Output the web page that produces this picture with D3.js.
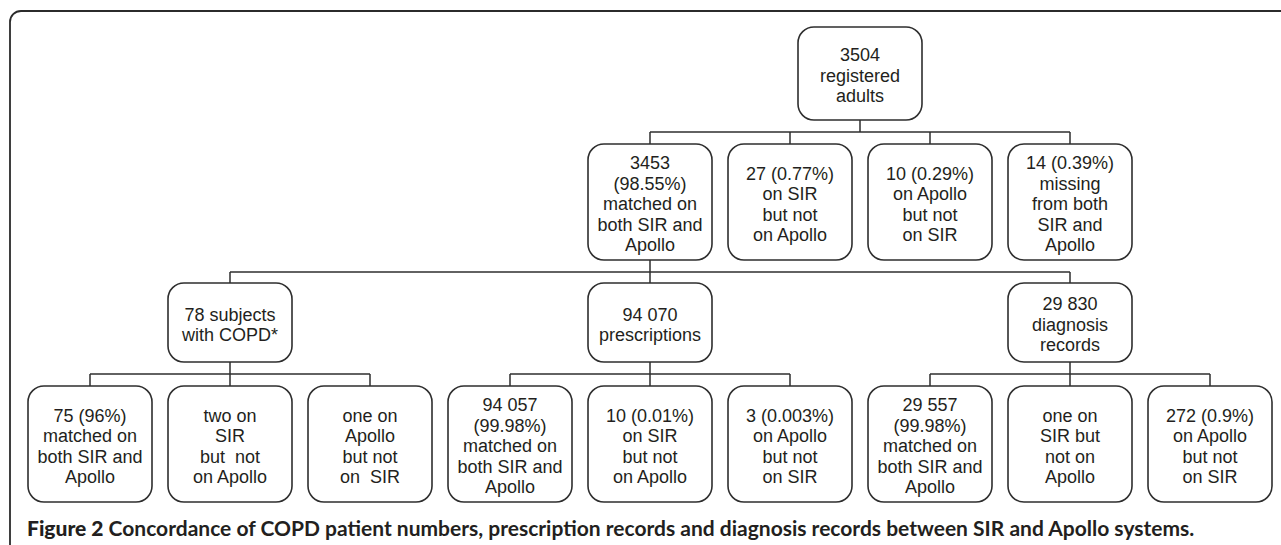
<!DOCTYPE html>
<html>
<head>
<meta charset="utf-8">
<script src="https://cdnjs.cloudflare.com/ajax/libs/d3/7.8.5/d3.min.js"></script>
<style>
  html, body { margin: 0; padding: 0; background: #fff; }
  svg { display: block; }
  text { white-space: pre; }
</style>
</head>
<body>
<svg id="chart" width="1281" height="545"></svg>
<script>
// ---- data ----
const rootLabel = ["3504", "registered", "adults"];
const level1Labels = [
  ["3453", "(98.55%)", "matched on", "both SIR and", "Apollo"],
  ["27 (0.77%)", "on SIR", "but not", "on Apollo"],
  ["10 (0.29%)", "on Apollo", "but not", "on SIR"],
  ["14 (0.39%)", "missing", "from both", "SIR and", "Apollo"]
];
const level2Labels = [
  ["78 subjects", "with COPD*"],
  ["94 070", "prescriptions"],
  ["29 830", "diagnosis", "records"]
];
const level3Labels = [
  ["75 (96%)", "matched on", "both SIR and", "Apollo"],
  ["two on", "SIR", "but  not", "on Apollo"],
  ["one on", "Apollo", "but not", "on  SIR"],
  ["94 057", "(99.98%)", "matched on", "both SIR and", "Apollo"],
  ["10 (0.01%)", "on SIR", "but not", "on Apollo"],
  ["3 (0.003%)", "on Apollo", "but not", "on SIR"],
  ["29 557", "(99.98%)", "matched on", "both SIR and", "Apollo"],
  ["one on", "SIR but", "not on", "Apollo"],
  ["272 (0.9%)", "on Apollo", "but not", "on SIR"]
];
// grid columns of each level (column index on a 9-column grid)
const rootCol = 5.5;
const level1Cols = [4, 5, 6, 7];
const level2Cols = [1, 4, 7];
const level3Cols = [0, 1, 2, 3, 4, 5, 6, 7, 8];
// parent of the level-2 group (index in level 1) and of each level-3 node (index in level 2)
const level2Parent = 0;
const level3Parents = [0, 0, 0, 1, 1, 1, 2, 2, 2];
const captionBold = "Figure 2";
const captionText = " Concordance of COPD patient numbers, prescription records and diagnosis records between SIR and Apollo systems.";

// ---- layout ----
const svg = d3.select("#chart");
const ink = "#231f20";
const x = d3.scaleLinear().domain([0, 8]).range([90, 1210]);
const boxW = 124;
const rows = {
  root: [27, 120],
  l1: [144, 260],
  l2: [283, 362],
  l3: [386, 502]
};
const busY = { l1: 132, l2: 272, l3: 374 };
const lineH = 20.5;

// frame
svg.append("rect")
  .attr("x", 10).attr("y", 11)
  .attr("width", 1400).attr("height", 700)
  .attr("rx", 11).attr("ry", 11)
  .attr("fill", "none").attr("stroke", "#2b2b2b").attr("stroke-width", 1.8);

const g = svg.append("g");

function drawBox(col, row, lines) {
  const cx = x(col);
  const [t, b] = rows[row];
  g.append("rect")
    .attr("x", cx - boxW / 2).attr("y", t)
    .attr("width", boxW).attr("height", b - t)
    .attr("rx", 16).attr("ry", 16)
    .attr("fill", "#fff").attr("stroke", "#2e2e2e").attr("stroke-width", 1.6);
  const cy = (t + b) / 2 + 2;
  const n = lines.length;
  const tx = g.append("text")
    .attr("x", cx).attr("text-anchor", "middle")
    .attr("font-family", "'Liberation Sans', Arial, sans-serif")
    .attr("font-size", 18).attr("fill", ink);
  lines.forEach((s, i) => {
    tx.append("tspan").attr("x", cx)
      .attr("y", cy + (i - (n - 1) / 2) * lineH)
      .attr("dy", "0.35em").text(s);
  });
}

function line(x1, y1, x2, y2) {
  g.append("line").attr("x1", x1).attr("y1", y1).attr("x2", x2).attr("y2", y2)
    .attr("stroke", "#2e2e2e").attr("stroke-width", 1.5);
}

// connectors root -> level1
line(x(rootCol), rows.root[1], x(rootCol), busY.l1);
line(x(d3.min(level1Cols)), busY.l1, x(d3.max(level1Cols)), busY.l1);
level1Cols.forEach(c => line(x(c), busY.l1, x(c), rows.l1[0]));

// level1 -> level2
const p2 = x(level1Cols[level2Parent]);
line(p2, rows.l1[1], p2, busY.l2);
line(x(d3.min(level2Cols)), busY.l2, x(d3.max(level2Cols)), busY.l2);
level2Cols.forEach(c => line(x(c), busY.l2, x(c), rows.l2[0]));

// level2 -> level3
level2Cols.forEach((pc, pi) => {
  const kids = level3Cols.filter((c, i) => level3Parents[i] === pi);
  line(x(pc), rows.l2[1], x(pc), busY.l3);
  line(x(d3.min(kids)), busY.l3, x(d3.max(kids)), busY.l3);
  kids.forEach(c => line(x(c), busY.l3, x(c), rows.l3[0]));
});

// boxes
drawBox(rootCol, "root", rootLabel);
level1Labels.forEach((l, i) => drawBox(level1Cols[i], "l1", l));
level2Labels.forEach((l, i) => drawBox(level2Cols[i], "l2", l));
level3Labels.forEach((l, i) => drawBox(level3Cols[i], "l3", l));

// caption
const cap = svg.append("text")
  .attr("x", 27).attr("y", 529).attr("dy", "0.35em")
  .attr("font-family", "Lato, 'Noto Sans', sans-serif")
  .attr("font-size", 21).attr("fill", ink);
cap.append("tspan").attr("font-weight", 900).text(captionBold);
cap.append("tspan").attr("font-weight", 700).text(captionText);
</script>
</body>
</html>
